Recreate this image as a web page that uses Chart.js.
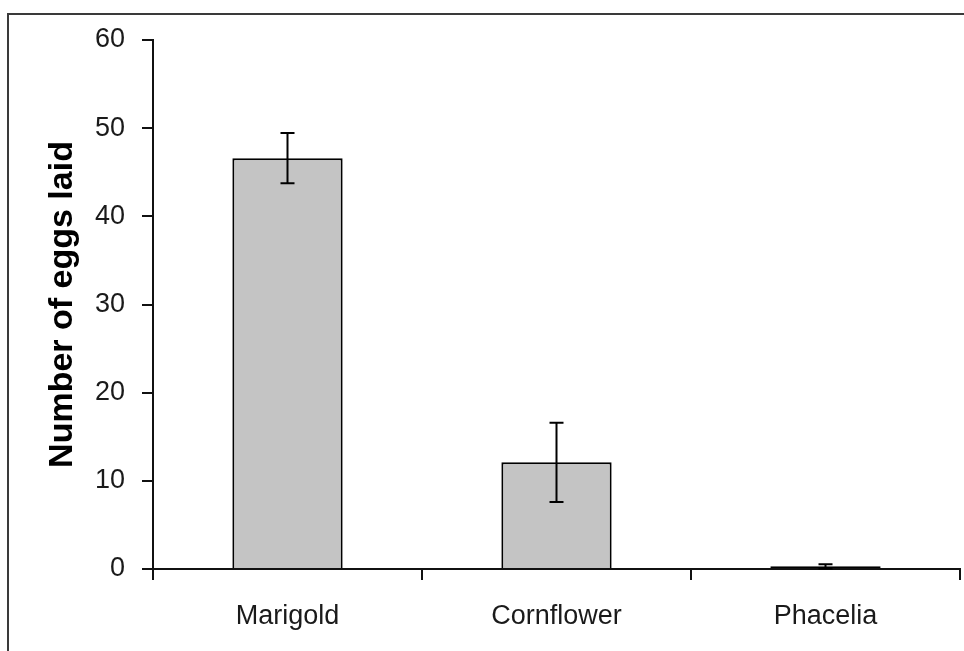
<!DOCTYPE html>
<html>
<head>
<meta charset="utf-8">
<script src="https://cdn.jsdelivr.net/npm/chart.js@4"></script>
<style>
  html, body { margin: 0; padding: 0; background: #fff; }
  #wrap { position: relative; width: 964px; height: 651px; overflow: hidden; }
  #frame { position: absolute; left: 7px; top: 13px; width: 1000px; height: 700px;
           border-top: 2px solid #3a3a3a; border-left: 2px solid #3a3a3a; box-sizing: border-box; }
  canvas { position: absolute; left: 0; top: 0; }
</style>
</head>
<body>
<div id="wrap">
  <div id="frame"></div>
  <canvas id="c" width="964" height="651"></canvas>
</div>
<script>
const categories = ["Marigold", "Cornflower", "Phacelia"];
const meanEggs = [46.6, 12.1, 0.3];
const errorEggs = [2.85, 4.5, 0.25];
const yTicks = [0, 10, 20, 30, 40, 50, 60];
const yTitle = "Number of eggs laid";

const errorBars = {
  id: 'errorBars',
  afterDatasetsDraw(chart) {
    const ctx = chart.ctx;
    const meta = chart.getDatasetMeta(0);
    const ys = chart.scales.y;
    ctx.save();
    ctx.strokeStyle = '#000';
    ctx.lineWidth = 2;
    meta.data.forEach((bar, i) => {
      const x = bar.x;
      const yTop = ys.getPixelForValue(meanEggs[i] + errorEggs[i]);
      const yBot = ys.getPixelForValue(Math.max(0, meanEggs[i] - errorEggs[i]));
      ctx.beginPath();
      ctx.moveTo(x, yTop); ctx.lineTo(x, yBot);
      ctx.moveTo(x - 7, yTop); ctx.lineTo(x + 7, yTop);
      ctx.moveTo(x - 7, yBot); ctx.lineTo(x + 7, yBot);
      ctx.stroke();
    });
    ctx.restore();
  }
};

const font = { family: "'Liberation Sans', Arial, sans-serif", size: 27 };

new Chart(document.getElementById('c'), {
  type: 'bar',
  data: {
    labels: categories,
    datasets: [{
      data: meanEggs,
      backgroundColor: '#c4c4c4',
      borderColor: '#000',
      borderWidth: 2,
      borderSkipped: (ctx) => (ctx.raw !== undefined && ctx.raw < 1) ? false : 'start',
      categoryPercentage: 1,
      barPercentage: 0.41
    }]
  },
  options: {
    responsive: false,
    animation: false,
    devicePixelRatio: 1,
    layout: { padding: { left: 0, top: 40, right: 4, bottom: 0 } },
    plugins: { legend: { display: false }, tooltip: { enabled: false } },
    scales: {
      x: {
        grid: { display: true, drawOnChartArea: false, drawTicks: true, tickLength: 11, color: '#111', lineWidth: 2, offset: true },
        border: { display: true, color: '#111', width: 2 },
        ticks: { font: font, color: '#1a1a1a', padding: 20 },
        afterFit(scale) { scale.height = 82; }
      },
      y: {
        min: 0, max: 60,
        afterBuildTicks(scale) { scale.ticks = yTicks.map(v => ({ value: v })); },
        grid: { display: true, drawOnChartArea: false, drawTicks: true, tickLength: 11, color: '#111', lineWidth: 2 },
        border: { display: true, color: '#111', width: 2 },
        ticks: { font: font, color: '#1a1a1a', padding: 17 },
        title: {
          display: true, text: yTitle, color: '#000',
          font: { family: "'Liberation Sans', Arial, sans-serif", size: 34, weight: 'bold' },
          padding: { top: 42, bottom: 0 }
        },
        afterFit(scale) { scale.width = 153; }
      }
    }
  },
  plugins: [errorBars]
});
</script>
</body>
</html>
